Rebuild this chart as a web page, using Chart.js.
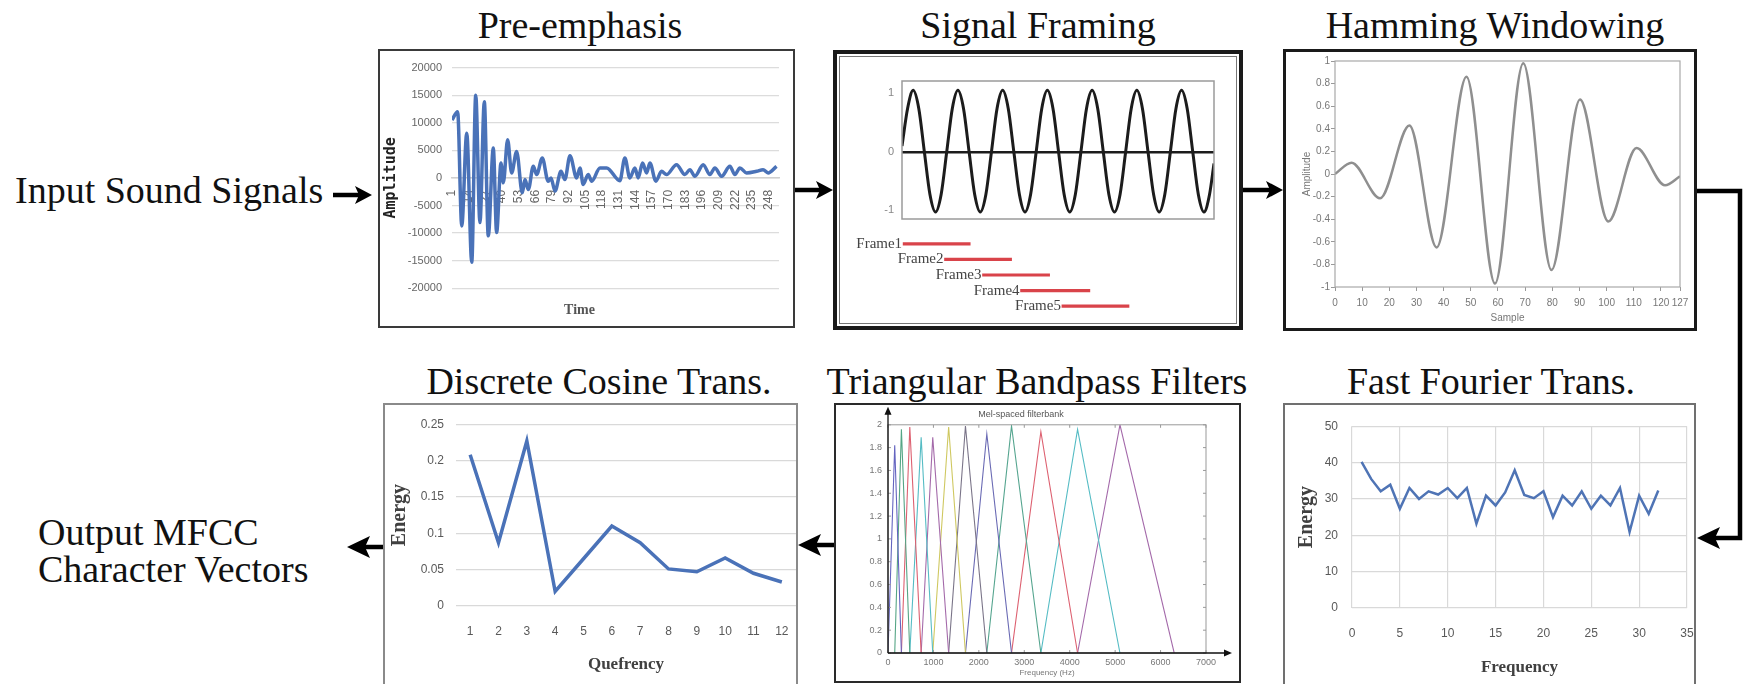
<!DOCTYPE html>
<html lang="en">
<head>
<meta charset="UTF-8" />
<title>MFCC Feature Extraction Steps</title>
<script src="https://cdn.jsdelivr.net/npm/chart.js"></script>
<style>
  body { margin: 0; background: #fff; }
  #page { position: relative; width: 1745px; height: 684px; overflow: hidden;
          font-family: 'Liberation Serif', 'Times New Roman', serif; color: #111; }
  .big { position: absolute; font-size: 38px; line-height: 38px; white-space: nowrap; }
  .ttl { width: 600px; text-align: center; }
  .box { position: absolute; box-sizing: border-box; pointer-events: none; }
  canvas { position: absolute; }
  svg { position: absolute; left: 0; top: 0; }
</style>
</head>
<body>
<div id="page">
  <!-- side texts -->
  <div class="big" style="left:15px;top:171px">Input Sound Signals</div>
  <div class="big" style="left:38px;top:513px">Output MFCC</div>
  <div class="big" style="left:38px;top:550px">Character Vectors</div>

  <!-- step titles -->
  <div class="big ttl" style="left:280px;top:6px">Pre-emphasis</div>
  <div class="big ttl" style="left:738px;top:6px">Signal Framing</div>
  <div class="big ttl" style="left:1195px;top:6px">Hamming Windowing</div>
  <div class="big ttl" style="left:299px;top:362px">Discrete Cosine Trans.</div>
  <div class="big ttl" style="left:737px;top:362px">Triangular Bandpass Filters</div>
  <div class="big ttl" style="left:1191px;top:362px">Fast Fourier Trans.</div>

  <!-- charts -->
  <canvas id="preChart" width="413" height="275" style="left:380px;top:51px"></canvas>
  <canvas id="waveChart" width="402" height="180" style="left:837px;top:54px"></canvas>
  <canvas id="frameChart" width="402" height="90" style="left:837px;top:232px"></canvas>
  <canvas id="hamChart" width="408" height="276" style="left:1286px;top:52px"></canvas>
  <canvas id="dctChart" width="411" height="279" style="left:385px;top:405px"></canvas>
  <canvas id="melChart" width="403" height="276" style="left:836px;top:405px"></canvas>
  <canvas id="fftChart" width="410" height="279" style="left:1285px;top:405px"></canvas>

  <!-- panel borders -->
  <div class="box" style="left:378px;top:49px;width:417px;height:279px;border:2px solid #3a3a3a"></div>
  <div class="box" style="left:833px;top:50px;width:410px;height:280px;border:4px solid #1a1a1a;box-shadow:inset 0 0 0 2px #fff, inset 0 0 0 3px #777"></div>
  <div class="box" style="left:1283px;top:49px;width:414px;height:282px;border:3px solid #1a1a1a"></div>
  <div class="box" style="left:383px;top:403px;width:415px;height:300px;border:2px solid #8a8a8a"></div>
  <div class="box" style="left:834px;top:403px;width:407px;height:280px;border:2px solid #2a2a2a"></div>
  <div class="box" style="left:1283px;top:403px;width:413px;height:300px;border:2px solid #707070"></div>

  <!-- flow arrows -->
  <svg width="1745" height="684">
    <g stroke="#000" stroke-width="4.5" fill="none">
      <line x1="333" y1="195" x2="362" y2="195"/>
      <line x1="795" y1="190" x2="822" y2="190"/>
      <line x1="1243" y1="190" x2="1272" y2="190"/>
      <polyline points="1697,191 1740,191 1740,538 1712,538"/>
      <line x1="834" y1="545" x2="812" y2="545"/>
      <line x1="383" y1="547" x2="362" y2="547"/>
    </g>
    <g fill="#000">
      <polygon points="372,195 355,186 359,195 355,204"/>
      <polygon points="833,190 816,181 820,190 816,199"/>
      <polygon points="1283,190 1266,181 1270,190 1266,199"/>
      <polygon points="1697,538 1720,527 1715,538 1720,549"/>
      <polygon points="798,545 821,534 816,545 821,556"/>
      <polygon points="347,547 370,536 365,547 370,558"/>
    </g>
  </svg>
</div>

<script>
  // ---- Pre-emphasis (sample index vs amplitude, turning points)
  const preX = [1, 5.4, 8.6, 12.5, 16.4, 19.5, 22.8, 26.2, 29.3, 33.2, 35.8, 39.2, 41, 44.4, 47.5,
    51.4, 55.8, 57.9, 60.5, 64.4, 67, 71.4, 76, 78.2, 81.3, 86, 89, 93, 98.2, 100.8,
    103.3, 107.2, 109.9, 116.4, 121.6, 131.9, 135.8, 139.7, 143.6, 146.2, 149.6, 152.8, 155.3, 160, 164.4,
    168.3, 176.1, 182.6, 186.5, 190.4, 196.9, 202.1, 206, 211.2, 217.7, 221.6, 225.5, 230.7, 238.5, 243.6,
    247.5, 254.1];
  const preY = [10500, 12000, -8700, 8100, -15300, 15000, -8100, 13800, -10500, 5400, -9900, 2700, -900, 6900, 900,
    4800, -2700, -300, -2100, 2100, 600, 3600, -600, 0, -2400, 1200, -300, 4000, 0, 1800,
    -1200, 600, -600, 1800, 1800, -500, 3600, 0, 1800, 0, 2700, 900, 2700, -600, 1200,
    600, 2400, 600, 1500, 300, 2400, 600, 1800, 300, 2100, 600, 1800, 900, 1200, 1500,
    900, 2100];
  const preTicks = [1, 14, 27, 40, 53, 66, 79, 92, 105, 118, 131, 144, 157, 170, 183, 196, 209, 222, 235, 248];

  // ---- Signal framing
  const waveT = [0, 0.5, 1, 1.5, 2, 2.5, 3, 3.5, 4, 4.5, 5, 5.5, 6, 6.5, 7, 7.5,
    8, 8.5, 9, 9.5, 10, 10.5, 11, 11.5, 12, 12.5, 13, 13.5, 14, 14.5, 15, 15.5,
    16, 16.5, 17, 17.5, 18, 18.5, 19, 19.5, 20, 20.5, 21, 21.5, 22, 22.5, 23, 23.5,
    24, 24.5, 25, 25.5, 26, 26.5, 27, 27.5, 27.9];
  const waveY = [0.1, 0.74, 1.05, 0.74, 0, -0.73, -1.03, -0.73, 0, 0.74, 1.05, 0.74, 0, -0.73, -1.03, -0.73,
    0, 0.74, 1.05, 0.74, 0, -0.73, -1.03, -0.73, 0, 0.74, 1.05, 0.74, 0, -0.73, -1.03, -0.73,
    0, 0.74, 1.05, 0.74, 0, -0.73, -1.03, -0.73, 0, 0.74, 1.05, 0.74, 0, -0.73, -1.03, -0.73,
    0, 0.74, 1.05, 0.74, 0, -0.73, -1.03, -0.73, -0.2];
  const waveTicks = [-1, 0, 1];
  const frameNames = ['Frame1', 'Frame2', 'Frame3', 'Frame4', 'Frame5'];
  const frameStart = [0.1, 3.8, 7.2, 10.6, 14.3];
  const frameEnd = [6.1, 9.8, 13.2, 16.8, 20.3];

  // ---- Hamming windowing
  const hamX = [0, 6.1, 16.6, 27.4, 37.4, 48.4, 58.9, 69.3, 79.7, 90.2, 100.6, 111, 121.5, 127];
  const hamY = [0, 0.1, -0.215, 0.43, -0.65, 0.86, -0.97, 0.98, -0.85, 0.66, -0.42, 0.23, -0.1, -0.02];
  const hamTicks = [0, 10, 20, 30, 40, 50, 60, 70, 80, 90, 100, 110, 120, 127];

  // ---- DCT
  const dctLabels = ['1', '2', '3', '4', '5', '6', '7', '8', '9', '10', '11', '12'];
  const dctY = [0.208, 0.087, 0.227, 0.020, 0.065, 0.110, 0.087, 0.051, 0.047, 0.066, 0.045, 0.033];

  // ---- Mel filterbank (shared edges, peak heights)
  const melEdges = [0, 148, 295, 480, 730, 985, 1335, 1705, 2175, 2719, 3365, 4173, 5106, 6300];
  const melPeaks = [1.82, 1.96, 1.98, 1.89, 1.89, 1.98, 1.99, 1.92, 1.99, 1.94, 1.96, 2.0];
  const melColors = ['#6464c0', '#55a585', '#dd6070', '#55bcc4', '#a46aaa', '#cfc860', '#7a7488',
    '#6a6ab4', '#55a58f', '#dd6070', '#55bcc4', '#a46aaa'];

  // ---- FFT
  const fftX = [1, 2, 3, 4, 5, 6, 7, 8, 9, 10, 11, 12, 13, 14, 15, 16,
    17, 18, 19, 20, 21, 22, 23, 24, 25, 26, 27, 28, 29, 30, 31, 32];
  const fftY = [40.2, 35.5, 32.1, 33.9, 27.3, 33, 30, 32.1, 31.2, 33, 30.2, 33, 23.2, 30.9, 28.2, 31.8,
    37.9, 31.1, 30.2, 32.1, 25, 30.9, 28.2, 32.1, 27.3, 30.9, 28.2, 33, 20.9, 30.9, 25.9, 32.3];

  Chart.defaults.animation = false;
  Chart.defaults.responsive = false;
  Chart.defaults.events = [];
  Chart.defaults.plugins.legend.display = false;
  Chart.defaults.plugins.tooltip.enabled = false;
  Chart.defaults.font.family = "'Liberation Sans', Arial, sans-serif";

  const serif = 'Liberation Serif';
  const fixTicks = list => scale => { scale.ticks = list.map(v => ({ value: v })); };
  const plain = v => String(+Number(v).toFixed(2));
  // fixed axis height, no extra side padding for the edge labels
  const fitX = h => s => { s.height = h; s.paddingLeft = 0; s.paddingRight = 0; };

  // box around the plot area, optional inward tick marks
  const frameBox = {
    id: 'frameBox',
    afterDraw(chart, args, opts) {
      if (!opts.color) return;
      const { ctx, chartArea: a } = chart;
      ctx.save();
      ctx.strokeStyle = opts.color;
      ctx.lineWidth = opts.width || 1;
      ctx.strokeRect(a.left, a.top, a.width, a.height);
      if (opts.ticksIn) {
        const L = opts.ticksIn;
        ctx.beginPath();
        chart.scales.x.ticks.forEach(t => {
          const px = chart.scales.x.getPixelForValue(t.value);
          ctx.moveTo(px, a.bottom); ctx.lineTo(px, a.bottom - L);
          ctx.moveTo(px, a.top); ctx.lineTo(px, a.top + L);
        });
        chart.scales.y.ticks.forEach(t => {
          const py = chart.scales.y.getPixelForValue(t.value);
          ctx.moveTo(a.left, py); ctx.lineTo(a.left + L, py);
          ctx.moveTo(a.right, py); ctx.lineTo(a.right - L, py);
        });
        ctx.stroke();
      }
      ctx.restore();
    }
  };

  // black axis lines with arrow heads (filterbank plot)
  const axisArrows = {
    id: 'axisArrows',
    afterDraw(chart, args, opts) {
      if (!opts.on) return;
      const { ctx, chartArea: a } = chart;
      const topY = a.top - opts.up, endX = a.right + opts.right;
      ctx.save();
      ctx.strokeStyle = '#111';
      ctx.fillStyle = '#111';
      ctx.lineWidth = 1.3;
      ctx.beginPath();
      ctx.moveTo(a.left, a.bottom); ctx.lineTo(a.left, topY + 4);
      ctx.moveTo(a.left, a.bottom); ctx.lineTo(endX - 4, a.bottom);
      ctx.stroke();
      ctx.beginPath();
      ctx.moveTo(a.left, topY); ctx.lineTo(a.left - 3.5, topY + 8); ctx.lineTo(a.left + 3.5, topY + 8); ctx.closePath();
      ctx.moveTo(endX, a.bottom); ctx.lineTo(endX - 8, a.bottom - 3.5); ctx.lineTo(endX - 8, a.bottom + 3.5); ctx.closePath();
      ctx.fill();
      ctx.restore();
    }
  };

  // frame names written just left of each frame bar
  const frameLabels = {
    id: 'frameLabels',
    afterDatasetsDraw(chart) {
      const ctx = chart.ctx;
      ctx.save();
      ctx.font = "15px 'Liberation Serif'";
      ctx.fillStyle = '#444';
      ctx.textAlign = 'right';
      ctx.textBaseline = 'middle';
      chart.getDatasetMeta(0).data.forEach((bar, i) => {
        ctx.fillText(chart.data.labels[i], Math.min(bar.x, bar.base) - 1, bar.y);
      });
      ctx.restore();
    }
  };

  // Pre-emphasis
  new Chart(document.getElementById('preChart'), {
    type: 'line',
    data: {
      datasets: [{
        data: preX.map((x, i) => ({ x: x, y: preY[i] })),
        borderColor: '#4a72b8', borderWidth: 3.5, pointRadius: 0, cubicInterpolationMode: 'monotone'
      }]
    },
    options: {
      layout: { padding: { left: 0, right: 14, top: 14, bottom: 1 } },
      plugins: {
        title: { display: true, position: 'bottom', text: 'Time', color: '#555',
          font: { family: serif, size: 14, weight: 'bold' }, padding: { top: 14, bottom: 6 } }
      },
      scales: {
        x: {
          type: 'linear', position: { y: 0 }, min: 1, max: 256,
          afterBuildTicks: fixTicks(preTicks),
          afterFit: fitX(0),
          grid: { display: false, drawTicks: false },
          border: { display: true, color: '#cfcfcf', width: 1.5 },
          ticks: { autoSkip: false, minRotation: 90, maxRotation: 90, padding: 12, color: '#666', font: { size: 12 } }
        },
        y: {
          min: -20000, max: 20000,
          afterFit: s => { s.width = 72; },
          ticks: { stepSize: 5000, padding: 10, color: '#666', font: { size: 11 }, callback: plain },
          grid: { color: '#dcdcdc', lineWidth: 1.2, drawTicks: false },
          border: { display: false },
          title: { display: true, text: 'Amplitude', color: '#222',
            font: { family: 'DejaVu Sans Mono', size: 15, weight: 'bold' }, padding: { top: 2, bottom: 0 } }
        }
      }
    }
  });

  // Signal framing: waveform
  new Chart(document.getElementById('waveChart'), {
    type: 'line',
    data: {
      datasets: [{
        data: waveT.map((x, i) => ({ x: x, y: waveY[i] })),
        borderColor: '#1c1c1c', borderWidth: 3, pointRadius: 0, cubicInterpolationMode: 'monotone'
      }]
    },
    options: {
      layout: { padding: { left: 0, right: 25, top: 27, bottom: 15 } },
      plugins: { frameBox: { color: '#9a9a9a', width: 1.5 } },
      scales: {
        x: { type: 'linear', display: false, min: 0, max: 27.9 },
        y: {
          min: -1.15, max: 1.21,
          afterBuildTicks: fixTicks(waveTicks),
          afterFit: s => { s.width = 65; },
          ticks: { padding: 8, color: '#888', font: { size: 11 } },
          grid: { drawTicks: false, lineWidth: 2.5,
            color: c => (c.tick && c.tick.value === 0) ? '#1c1c1c' : 'rgba(0,0,0,0)' },
          border: { display: false }
        }
      }
    },
    plugins: [frameBox]
  });

  // Signal framing: frame spans
  new Chart(document.getElementById('frameChart'), {
    type: 'bar',
    data: {
      labels: frameNames,
      datasets: [{
        data: frameStart.map((s, i) => [s, frameEnd[i]]),
        backgroundColor: '#d9434a', barThickness: 2.5
      }]
    },
    options: {
      indexAxis: 'y',
      layout: { padding: { left: 65, right: 25, top: 4, bottom: 8 } },
      scales: {
        x: { type: 'linear', display: false, min: 0, max: 27.9 },
        y: { display: false }
      }
    },
    plugins: [frameLabels]
  });

  // Hamming windowing
  new Chart(document.getElementById('hamChart'), {
    type: 'line',
    data: {
      datasets: [{
        data: hamX.map((x, i) => ({ x: x, y: hamY[i] })),
        borderColor: '#8f8f8f', borderWidth: 2.5, pointRadius: 0, cubicInterpolationMode: 'monotone'
      }]
    },
    options: {
      layout: { padding: { left: 0, right: 14, top: 9, bottom: 0 } },
      plugins: { frameBox: { color: '#a8a8a8', width: 1.2 } },
      scales: {
        x: {
          type: 'linear', min: 0, max: 127,
          afterBuildTicks: fixTicks(hamTicks),
          afterFit: fitX(41),
          grid: { drawOnChartArea: false, tickLength: 4, color: '#999' },
          border: { display: false },
          ticks: { autoSkip: false, maxRotation: 0, padding: 6, color: '#777', font: { size: 10 } },
          title: { display: true, text: 'Sample', color: '#777', font: { size: 10 }, padding: { top: 0, bottom: 4 } }
        },
        y: {
          min: -1, max: 1,
          afterFit: s => { s.width = 49; },
          grid: { drawOnChartArea: false, tickLength: 4, color: '#999' },
          border: { display: false },
          ticks: { stepSize: 0.2, padding: 1, color: '#777', font: { size: 10 }, callback: plain },
          title: { display: true, text: 'Amplitude', color: '#777', font: { size: 10 }, padding: { top: 15, bottom: 0 } }
        }
      }
    },
    plugins: [frameBox]
  });

  // Discrete cosine transform
  new Chart(document.getElementById('dctChart'), {
    type: 'line',
    data: {
      labels: dctLabels,
      datasets: [{ data: dctY, borderColor: '#4a72b8', borderWidth: 3.5, pointRadius: 0, tension: 0 }]
    },
    options: {
      layout: { padding: { left: 0, right: 0, top: 12, bottom: 0 } },
      scales: {
        x: {
          offset: true,
          afterFit: fitX(78),
          grid: { display: false, drawTicks: false },
          border: { display: false },
          ticks: { padding: 18, color: '#595959', font: { size: 12 } },
          title: { display: true, text: 'Quefrency', color: '#404040',
            font: { family: serif, size: 17, weight: 'bold' }, padding: { top: 0, bottom: 9 } }
        },
        y: {
          min: 0, max: 0.25,
          afterFit: s => { s.width = 71; },
          grid: { color: '#d9d9d9', lineWidth: 1.2, drawTicks: false },
          border: { display: false },
          ticks: { stepSize: 0.05, padding: 12, color: '#595959', font: { size: 12 }, callback: plain },
          title: { display: true, text: 'Energy', color: '#404040',
            font: { family: serif, size: 20, weight: 'bold' }, padding: { top: 3, bottom: 0 } }
        }
      }
    }
  });

  // Mel-spaced triangular filterbank
  new Chart(document.getElementById('melChart'), {
    type: 'line',
    data: {
      datasets: melPeaks.map((h, i) => ({
        data: [{ x: melEdges[i], y: 0 }, { x: melEdges[i + 1], y: h }, { x: melEdges[i + 2], y: 0 }],
        borderColor: melColors[i], borderWidth: 1.1, pointRadius: 0, tension: 0
      }))
    },
    options: {
      layout: { padding: { left: 0, right: 33, top: 0, bottom: 0 } },
      plugins: {
        title: { display: true, text: 'Mel-spaced filterbank', color: '#555',
          font: { size: 9, weight: 'normal' }, padding: { top: 4, bottom: 5 } },
        frameBox: { color: '#999', width: 1, ticksIn: 3 },
        axisArrows: { on: true, up: 18, right: 26 }
      },
      scales: {
        x: {
          type: 'linear', min: 0, max: 7000,
          afterFit: fitX(28),
          grid: { display: false, drawTicks: false },
          border: { display: false },
          ticks: { stepSize: 1000, maxRotation: 0, padding: 4, color: '#777', font: { size: 9 }, callback: plain },
          title: { display: true, text: 'Frequency (Hz)', color: '#777', font: { size: 8 }, padding: { top: 0, bottom: 3 } }
        },
        y: {
          min: 0, max: 2,
          afterFit: s => { s.width = 52; },
          grid: { display: false, drawTicks: false },
          border: { display: false },
          ticks: { stepSize: 0.2, padding: 6, color: '#777', font: { size: 9 }, callback: plain }
        }
      }
    },
    plugins: [frameBox, axisArrows]
  });

  // Fast Fourier transform
  new Chart(document.getElementById('fftChart'), {
    type: 'line',
    data: {
      datasets: [{
        data: fftX.map((x, i) => ({ x: x, y: fftY[i] })),
        borderColor: '#4f74b5', borderWidth: 2.5, pointRadius: 0, tension: 0
      }]
    },
    options: {
      layout: { padding: { left: 0, right: 8, top: 20, bottom: 0 } },
      scales: {
        x: {
          type: 'linear', min: 0, max: 35,
          afterFit: fitX(76),
          grid: { color: '#d9d9d9', lineWidth: 1.2, drawTicks: false },
          border: { display: false },
          ticks: { stepSize: 5, maxRotation: 0, padding: 18, color: '#595959', font: { size: 12 } },
          title: { display: true, text: 'Frequency', color: '#404040',
            font: { family: serif, size: 17, weight: 'bold' }, padding: { top: 0, bottom: 6 } }
        },
        y: {
          min: 0, max: 50,
          afterFit: s => { s.width = 67; },
          grid: { color: '#d9d9d9', lineWidth: 1.2, drawTicks: false },
          border: { display: false },
          ticks: { stepSize: 10, padding: 14, color: '#595959', font: { size: 12 } },
          title: { display: true, text: 'Energy', color: '#404040',
            font: { family: serif, size: 20, weight: 'bold' }, padding: { top: 10, bottom: 0 } }
        }
      }
    }
  });
</script>
</body>
</html>
